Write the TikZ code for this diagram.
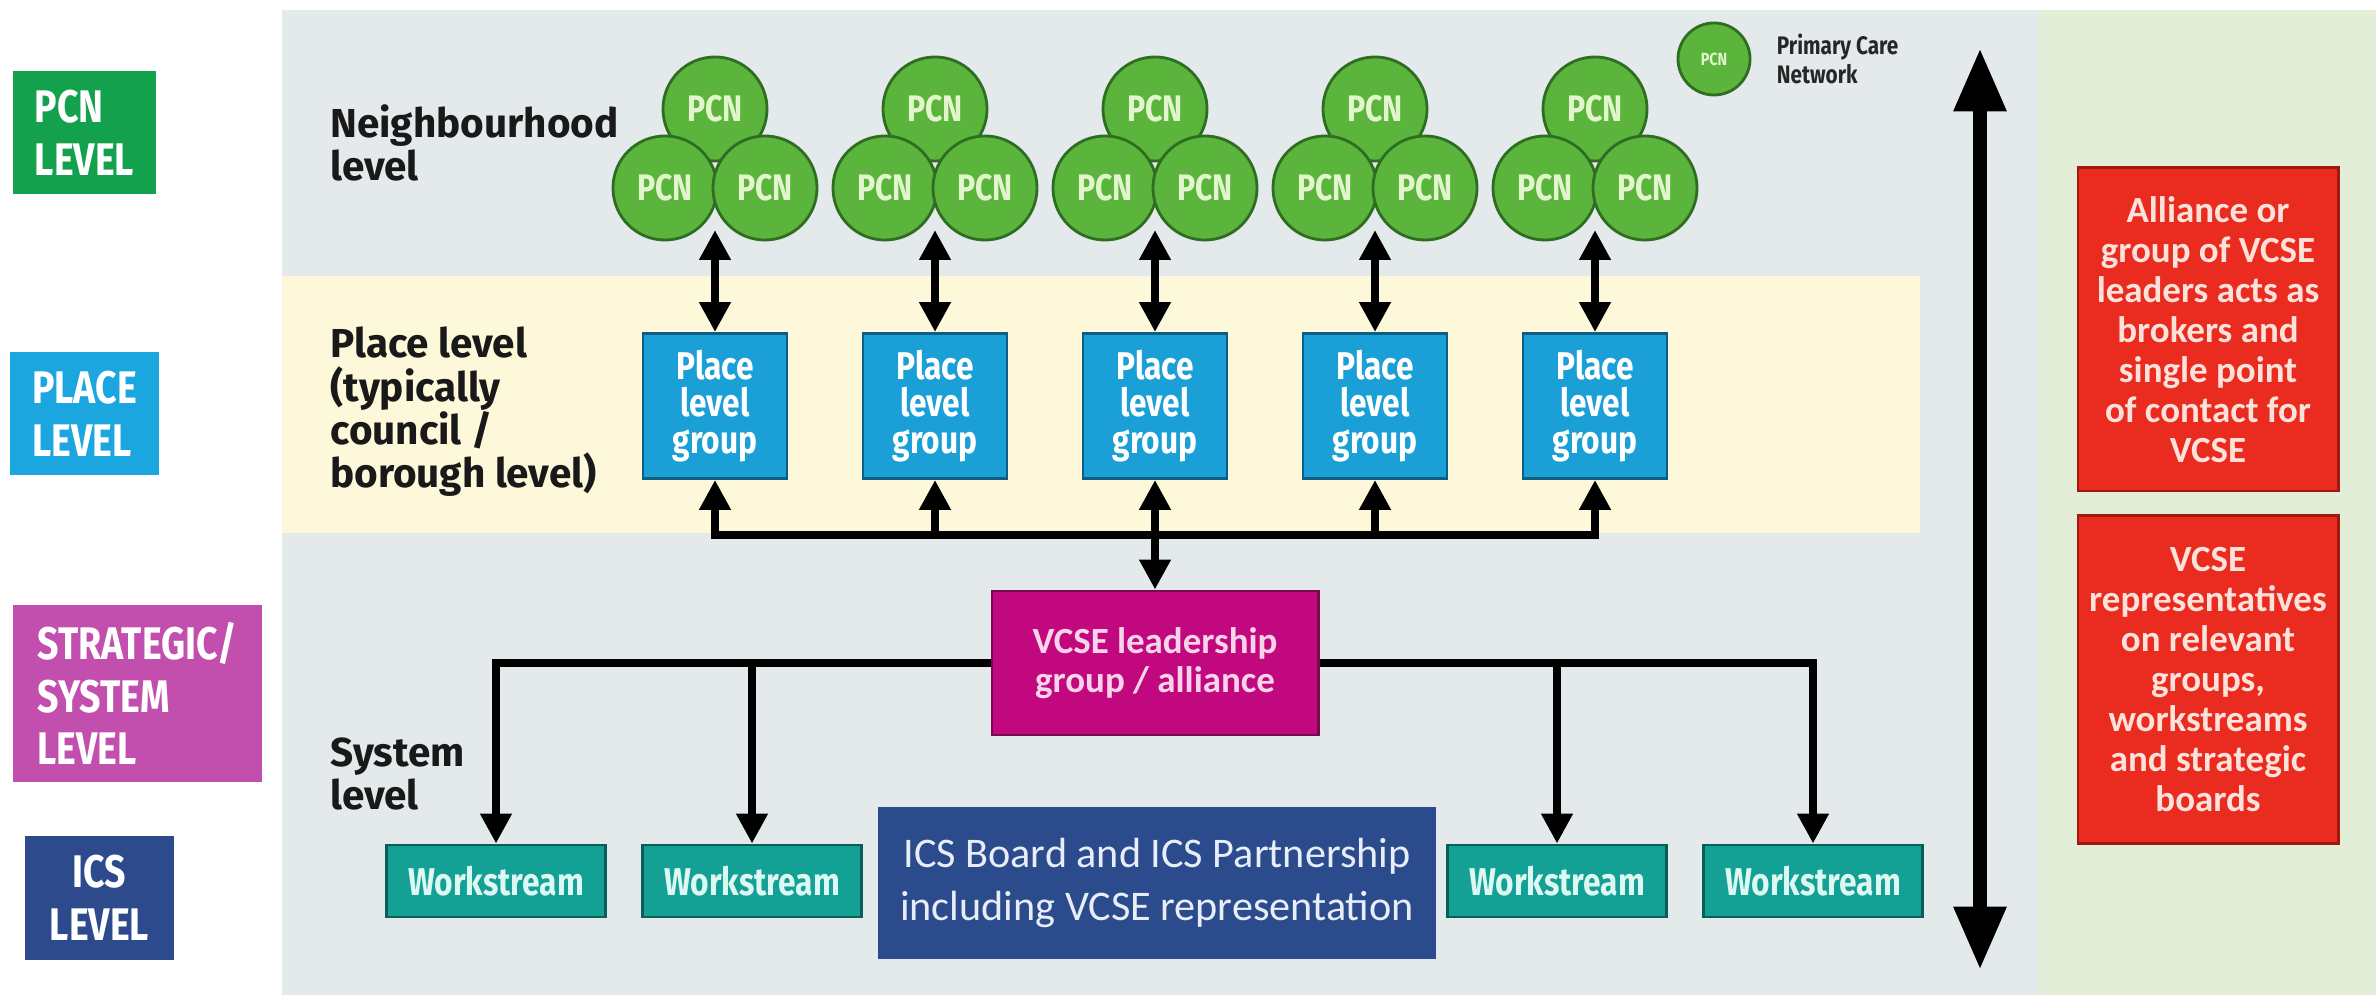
\documentclass[tikz,border=0pt]{standalone}
\usepackage{fontspec}
\setmainfont{Fira Sans}
\newfontfamily\condfont[FakeStretch=0.82]{Fira Sans}
\newfontfamily\calfont{Carlito}
\usetikzlibrary{arrows.meta}

\definecolor{greypanel}{HTML}{E4EAEB}
\definecolor{yellowband}{HTML}{FDF8DA}
\definecolor{greenpanel}{HTML}{E3EED9}
\definecolor{pcnlevel}{HTML}{13A14D}
\definecolor{placelevel}{HTML}{1BA6DF}
\definecolor{stratlevel}{HTML}{C24FAE}
\definecolor{icslevel}{HTML}{2C4A8C}
\definecolor{pcngreen}{HTML}{5BB53C}
\definecolor{pcnedge}{HTML}{2F6E22}
\definecolor{pcntext}{HTML}{E2F5CC}
\definecolor{placeblue}{HTML}{1A9FD6}
\definecolor{placeedge}{HTML}{0E5E84}
\definecolor{vcsemag}{HTML}{C2087E}
\definecolor{vcseedge}{HTML}{7A0A50}
\definecolor{vcsetext}{HTML}{F8D4EA}
\definecolor{icsblue}{HTML}{2B4B8D}
\definecolor{icstext}{HTML}{E8EEF8}
\definecolor{workteal}{HTML}{13A095}
\definecolor{workedge}{HTML}{0B5E58}
\definecolor{worktext}{HTML}{DDF7F2}
\definecolor{vcsered}{HTML}{EA2B1F}
\definecolor{rededge}{HTML}{A01810}
\definecolor{redtext}{HTML}{FCE2DA}

\tikzset{
  level/.style={fill=#1, text=white, align=left, inner sep=0pt,
    font=\condfont\bfseries\fontsize{13}{15}\selectfont},
  pcn/.style={circle, draw=pcnedge, line width=0.8pt, fill=pcngreen, minimum size=1.04cm,
    inner sep=0pt, text=pcntext, font=\condfont\bfseries\fontsize{10.5}{12}\selectfont},
  placebox/.style={draw=placeedge, line width=0.8pt, fill=placeblue, minimum width=1.44cm,
    minimum height=1.45cm, inner sep=0pt, text=white, align=center,
    font=\condfont\bfseries\fontsize{11}{10.5}\selectfont},
  workbox/.style={draw=workedge, line width=0.8pt, fill=workteal, minimum width=2.19cm,
    minimum height=0.72cm, inner sep=0pt, text=worktext,
    font=\condfont\bfseries\fontsize{11}{13}\selectfont},
  redbox/.style={draw=rededge, line width=0.8pt, fill=vcsered, minimum width=2.6cm,
    inner sep=0pt, text=redtext, align=center,
    font=\calfont\bfseries\fontsize{10.5}{11.4}\selectfont},
  tag/.style={anchor=west, align=left, text=black!90,
    font=\bfseries\fontsize{11.5}{12.3}\selectfont},
  link/.style={line width=2.5pt},
  >={Triangle[width=8.5pt,length=8.5pt]}
}

\begin{document}
\begin{tikzpicture}[x=0.01cm,y=-0.01cm]

        \useasboundingbox (0,0) rectangle (2376,995);

        \fill[greypanel] (282,10) rectangle (2038,995);
        \fill[yellowband] (282,276) rectangle (1920,533);
        \fill[greenpanel] (2038,10) rectangle (2376,995);

        \node[level=pcnlevel, minimum width=1.43cm, minimum height=1.23cm] (lvpcn) at (84.5,132.5) {PCN\\LEVEL};
        \node[level=placelevel, minimum width=1.49cm, minimum height=1.23cm] (lvplace) at (84.5,413.5) {PLACE\\LEVEL};
        \node[level=stratlevel, minimum width=2.49cm, minimum height=1.77cm] (lvstrat) at (137.5,693.5) {STRATEGIC/\\SYSTEM\\LEVEL};
        \node[level=icslevel, align=center, minimum width=1.49cm, minimum height=1.24cm] (lvics) at (99.5,898) {ICS\\LEVEL};

        \node[tag] (tagnbh) at (318,143) {Neighbourhood\\level};
        \node[tag] (tagplace) at (318,412) {Place level\\(typically\\council /\\borough level)};
        \node[tag] (tagsys) at (318,774) {System\\level};

        \node[pcn, minimum size=0.72cm, font=\condfont\bfseries\fontsize{5}{6}\selectfont] (key) at (1714,59) {PCN};
        \node[anchor=west, xshift=0.13cm, align=left, text=black!85,
          font=\condfont\bfseries\fontsize{7.2}{8}\selectfont] (keytext) at (key.east) {Primary Care\\Network};


        \node[pcn] (pcn1t) at (715,109) {PCN};
        \node[pcn] (pcn1l) at (665,188) {PCN};
        \node[pcn] (pcn1r) at (765,188) {PCN};

        \node[pcn] (pcn2t) at (935,109) {PCN};
        \node[pcn] (pcn2l) at (885,188) {PCN};
        \node[pcn] (pcn2r) at (985,188) {PCN};

        \node[pcn] (pcn3t) at (1155,109) {PCN};
        \node[pcn] (pcn3l) at (1105,188) {PCN};
        \node[pcn] (pcn3r) at (1205,188) {PCN};

        \node[pcn] (pcn4t) at (1375,109) {PCN};
        \node[pcn] (pcn4l) at (1325,188) {PCN};
        \node[pcn] (pcn4r) at (1425,188) {PCN};

        \node[pcn] (pcn5t) at (1595,109) {PCN};
        \node[pcn] (pcn5l) at (1545,188) {PCN};
        \node[pcn] (pcn5r) at (1645,188) {PCN};

        \node[placebox] (place1) at (715,406) {Place\\level\\group};
        \node[placebox] (place2) at (935,406) {Place\\level\\group};
        \node[placebox] (place3) at (1155,406) {Place\\level\\group};
        \node[placebox] (place4) at (1375,406) {Place\\level\\group};
        \node[placebox] (place5) at (1595,406) {Place\\level\\group};

        \coordinate (cl1) at (715,230);
        \coordinate (cl2) at (935,230);
        \coordinate (cl3) at (1155,230);
        \coordinate (cl4) at (1375,230);
        \coordinate (cl5) at (1595,230);

        \draw[link, <->] (cl1) -- (place1);
        \draw[link, <->] (cl2) -- (place2);
        \draw[link, <->] (cl3) -- (place3);
        \draw[link, <->] (cl4) -- (place4);
        \draw[link, <->] (cl5) -- (place5);

        \coordinate (bus1) at (715,535);
        \coordinate (bus2) at (935,535);
        \coordinate (bus4) at (1375,535);
        \coordinate (bus5) at (1595,535);

        \draw[link, <->] (place1) -- (bus1) -- (bus5) -- (place5);
        \draw[link, ->] (bus2) -- (place2);
        \draw[link, ->] (bus4) -- (place4);


        \node[draw=vcseedge, line width=0.8pt, fill=vcsemag, minimum width=3.26cm, minimum height=1.44cm,
          text=vcsetext, align=center, font=\calfont\bfseries\fontsize{10.5}{11}\selectfont]
          (vcse) at (1155,663) {VCSE leadership\\group / alliance};

        \draw[link, <->] (vcse) -- (place3);

        \node[workbox] (ws1) at (496,881) {Workstream};
        \node[workbox] (ws2) at (752,881) {Workstream};
        \node[workbox] (ws3) at (1557,881) {Workstream};
        \node[workbox] (ws4) at (1813,881) {Workstream};

        \draw[link, ->] (vcse) -| (ws1);
        \draw[link, ->] (vcse) -| (ws4);
        \draw[link, ->] (vcse -| ws2) -- (ws2);
        \draw[link, ->] (vcse -| ws3) -- (ws3);

        \node[fill=icsblue, minimum width=5.58cm, minimum height=1.51cm, text=icstext, align=center,
          font=\calfont\fontsize{12}{15}\selectfont]
          (ics) at (1157,883) {ICS Board and ICS Partnership\\including VCSE representation};


        \coordinate (scaletop) at (1980,48);
        \coordinate (scalebot) at (1980,970);
        \draw[line width=4pt, {Triangle[width=14pt,length=18pt]}-{Triangle[width=14pt,length=18pt]}] (scaletop) -- (scalebot);

        \node[redbox, minimum height=3.23cm] (broker) at (2208,329.5) {Alliance or\\group of VCSE\\leaders acts as\\brokers and\\single point\\of contact for\\VCSE};
        \node[redbox, minimum height=3.27cm] (reps) at (2208,679.5) {VCSE\\representatives\\on relevant\\groups,\\workstreams\\and strategic\\boards};

      \end{tikzpicture}
\end{document}
